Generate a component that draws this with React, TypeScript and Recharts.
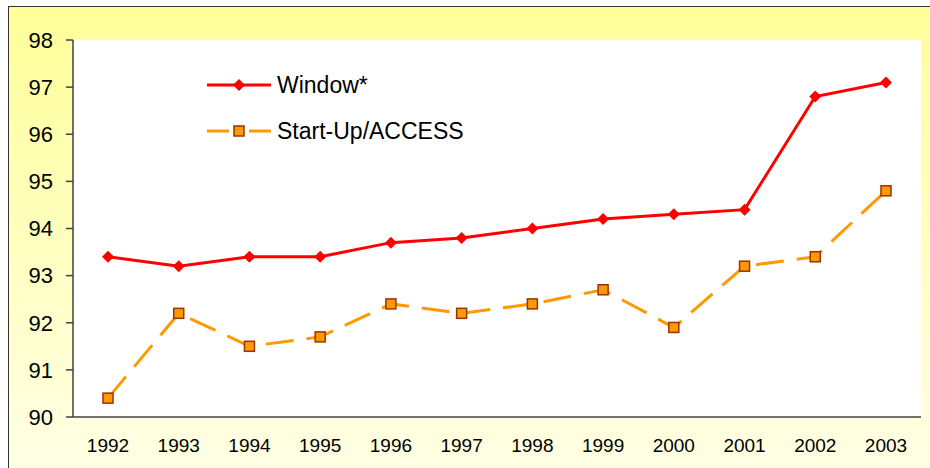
import React from 'react'
import { LineChart, Line, XAxis, YAxis, Legend, CartesianGrid } from 'recharts'

const years = ['1992', '1993', '1994', '1995', '1996', '1997', '1998', '1999', '2000', '2001', '2002', '2003']
const windowVals = [93.4, 93.2, 93.4, 93.4, 93.7, 93.8, 94.0, 94.2, 94.3, 94.4, 96.8, 97.1]
const startUpVals = [90.4, 92.2, 91.5, 91.7, 92.4, 92.2, 92.4, 92.7, 91.9, 93.2, 93.4, 94.8]
const yTicks = [90, 91, 92, 93, 94, 95, 96, 97, 98]
const seriesNames = ['Window*', 'Start-Up/ACCESS']

const data = years.map((y, i) => ({ year: y, win: windowVals[i], start: startUpVals[i] }))

const FONT = '"Liberation Sans", Arial, sans-serif'

function Diamond({ cx, cy }: any) {
  if (cx == null || cy == null) return null
  const r = 6
  return <polygon points={`${cx},${cy - r} ${cx + r},${cy} ${cx},${cy + r} ${cx - r},${cy}`} fill="#FF0000" />
}

function Square({ cx, cy }: any) {
  if (cx == null || cy == null) return null
  const s = 10
  return <rect x={cx - s / 2} y={cy - s / 2} width={s} height={s} fill="#FF9900" stroke="#993300" strokeWidth={1.5} />
}

function LegendBox({ payload }: any) {
  const items = [...(payload || [])].sort(
    (a: any, b: any) => seriesNames.indexOf(a.value) - seriesNames.indexOf(b.value)
  )
  return (
    <div style={{ fontFamily: FONT, fontSize: 23, color: '#000' }}>
      {items.map((p: any) => (
        <div key={p.value} style={{ display: 'flex', alignItems: 'center', height: 46 }}>
          <svg width={64} height={16} style={{ display: 'block' }}>
            {p.dataKey === 'win' ? (
              <>
                <line x1={0} y1={8} x2={64} y2={8} stroke="#FF0000" strokeWidth={3} />
                <polygon points="32,2 38,8 32,14 26,8" fill="#FF0000" />
              </>
            ) : (
              <>
                <line x1={0} y1={8} x2={22} y2={8} stroke="#FF9900" strokeWidth={3} />
                <line x1={42} y1={8} x2={64} y2={8} stroke="#FF9900" strokeWidth={3} />
                <rect x={27} y={3} width={10} height={10} fill="#FF9900" stroke="#993300" strokeWidth={1.5} />
              </>
            )}
          </svg>
          <span style={{ marginLeft: 6, lineHeight: 1 }}>{p.value}</span>
        </div>
      ))}
    </div>
  )
}

export default function App() {
  return (
    <div style={{ position: 'relative', width: 930, height: 468, overflow: 'hidden' }}>
      <style>{'body{margin:0;overflow:hidden}'}</style>
      <div
        style={{
          position: 'absolute', left: 8, top: 6, width: 940, height: 480,
          borderLeft: '1.5px solid #333', borderTop: '1.5px solid #333',
          background: 'linear-gradient(#FFFF99, #FFFFE8)',
        }}
      />
      <div style={{ position: 'absolute', left: 0, top: 0 }}>
        <LineChart width={930} height={468} data={data} margin={{ top: 40, right: 9, bottom: 0, left: 0 }}>
          <CartesianGrid horizontal={false} vertical={false} fill="#FFFFFF" />
          <XAxis
            dataKey="year"
            height={51}
            padding={{ left: 35, right: 35 }}
            tickLine={false}
            tickSize={0}
            tickMargin={22}
            axisLine={{ stroke: '#404040', strokeWidth: 1.5 }}
            tick={{ fill: '#000', fontSize: 19, fontFamily: FONT }}
            interval={0}
          />
          <YAxis
            width={73}
            domain={[90, 98]}
            ticks={yTicks}
            tickSize={7}
            tickMargin={13}
            axisLine={{ stroke: '#404040', strokeWidth: 1.5 }}
            tickLine={{ stroke: '#404040', strokeWidth: 1.5 }}
            tick={{ fill: '#000', fontSize: 22, fontFamily: FONT }}
          />
          <Legend
            layout="vertical"
            align="center"
            verticalAlign="middle"
            content={<LegendBox />}
            wrapperStyle={{ left: 207, top: 62, width: 'auto' }}
          />
          <Line
            name="Window*"
            dataKey="win"
            stroke="#FF0000"
            strokeWidth={3}
            dot={<Diamond />}
            activeDot={false}
            isAnimationActive={false}
          />
          <Line
            name="Start-Up/ACCESS"
            dataKey="start"
            stroke="#FF9900"
            strokeWidth={3}
            strokeDasharray="28 13"
            dot={<Square />}
            activeDot={false}
            isAnimationActive={false}
          />
        </LineChart>
      </div>
    </div>
  )
}
